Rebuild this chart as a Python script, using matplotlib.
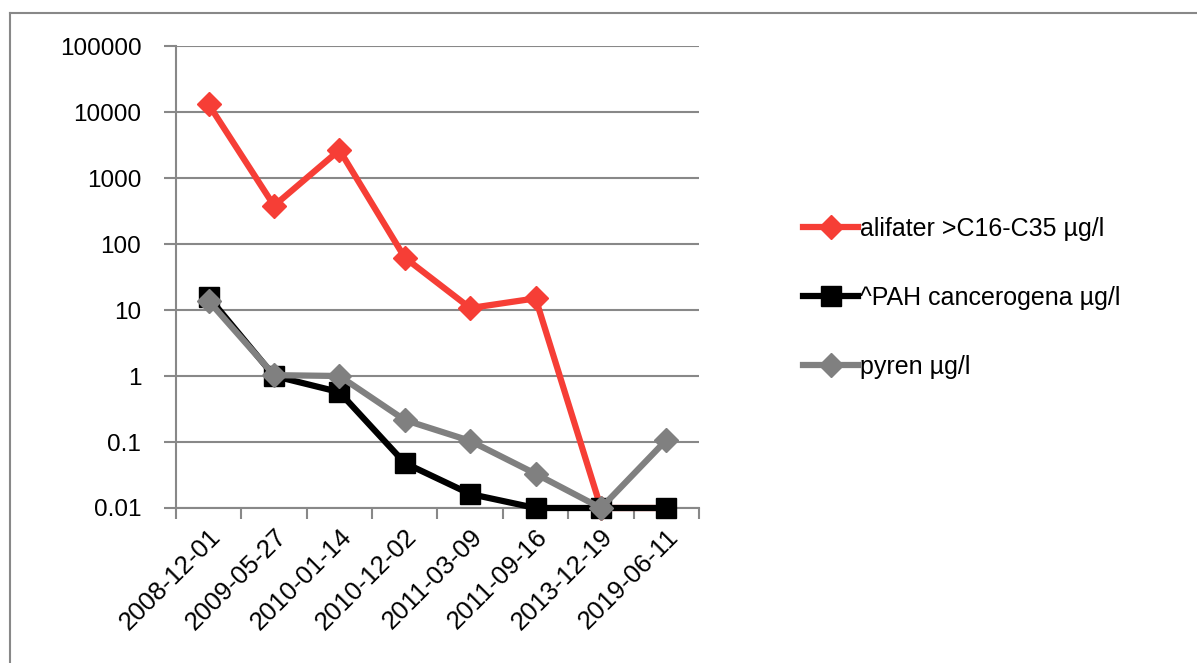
import matplotlib
matplotlib.use("Agg")
import matplotlib.pyplot as plt
from matplotlib.lines import Line2D
from matplotlib.ticker import FixedLocator, FuncFormatter, NullFormatter

plt.rcParams['font.family'] = ['Liberation Sans', 'DejaVu Sans']

dates = ["2008-12-01", "2009-05-27", "2010-01-14", "2010-12-02",
         "2011-03-09", "2011-09-16", "2013-12-19", "2019-06-11"]
alifater = [13000, 380, 2650, 62, 10.7, 15, 0.01, 0.01]
pah = [15.7, 1.0, 0.57, 0.048, 0.0163, 0.01, 0.01, 0.01]
pyren = [13.7, 1.03, 1.0, 0.215, 0.104, 0.033, 0.01, 0.107]
ytick_vals = [0.01, 0.1, 1, 10, 100, 1000, 10000, 100000]

W, H = 1197, 663
fig = plt.figure(figsize=(W / 100, H / 100), dpi=100)
ax = fig.add_axes([176 / W, 1 - 508 / H, (699 - 176) / W, (508 - 46) / H])

x = list(range(len(dates)))
# red marker at the last point is hidden behind the black square in the original
ax.plot(x, alifater, color="#F63E36", lw=4.5, marker="D", ms=12,
        markevery=list(range(len(dates) - 1)),
        label="alifater >C16-C35 µg/l", zorder=3, clip_on=False)
ax.plot(x, pah, color="black", lw=4.5, marker="s", ms=14,
        label="^PAH cancerogena µg/l", zorder=4, clip_on=False)
ax.plot(x, pyren, color="#808080", lw=4.5, marker="D", ms=12,
        label="pyren µg/l", zorder=5, clip_on=False)

ax.set_yscale("log")
ax.set_ylim(0.01, 100000)
ax.set_xlim(-0.5, len(dates) - 0.5)

gc = "#888888"
ax.yaxis.set_major_locator(FixedLocator(ytick_vals))
ax.yaxis.set_minor_locator(FixedLocator([]))
ax.yaxis.set_major_formatter(FuncFormatter(lambda v, p: f"{v:g}" if v < 1 else f"{int(v)}"))
ax.grid(axis="y", color=gc, lw=1.5)
ax.set_axisbelow(True)

ax.set_xticks(x)
ax.set_xticklabels(dates, rotation=45, ha="right", rotation_mode="anchor", fontsize=18.5)
ax.tick_params(axis="x", which="major", length=0, pad=12)
ax.xaxis.set_minor_locator(FixedLocator([i - 0.5 for i in range(len(dates) + 1)]))
ax.xaxis.set_minor_formatter(NullFormatter())
ax.tick_params(axis="x", which="minor", length=8, width=1.5, color=gc, direction="out")
ax.tick_params(axis="y", length=9, width=1.5, color=gc, direction="out", pad=16, labelsize=17.5)

for s in ("top", "right"):
    ax.spines[s].set_visible(False)
for s in ("left", "bottom"):
    ax.spines[s].set_color(gc)
    ax.spines[s].set_linewidth(1.5)

fig.legend(loc="center left", bbox_to_anchor=(803 / W, 1 - 298 / H),
           frameon=False, fontsize=18, handlelength=2.2, handletextpad=0.1,
           labelspacing=1.8, borderpad=0, borderaxespad=0)

# outer chart frame (only left and top visible)
fig.add_artist(Line2D([10 / W, 10 / W], [0, 1 - 13 / H], color=gc, lw=1.5))
fig.add_artist(Line2D([10 / W, 1], [1 - 13 / H, 1 - 13 / H], color=gc, lw=1.5))

fig.savefig("out.png", dpi=100)
